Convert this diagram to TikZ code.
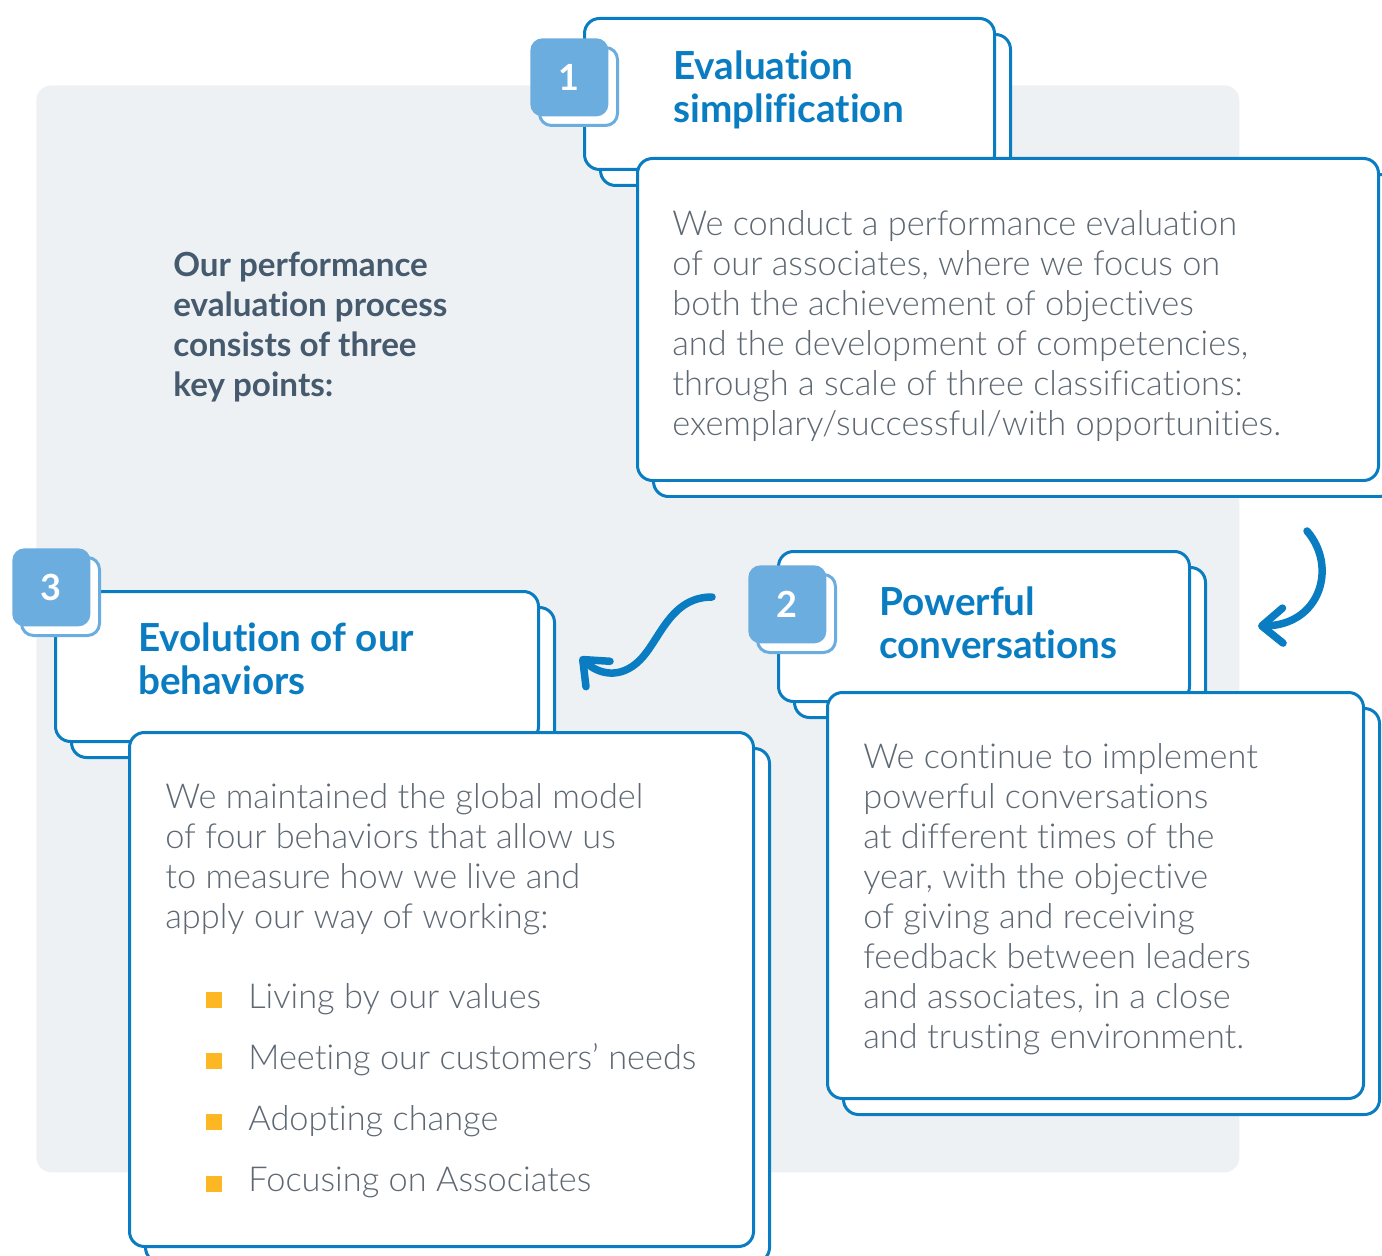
\documentclass[tikz,border=0pt]{standalone}
\usepackage{fontspec}
\setmainfont{Lato}[Ligatures=NoCommon]
\newfontfamily\lightfont{Lato Light}[Ligatures=NoCommon]
\usetikzlibrary{arrows.meta}

\definecolor{cardblue}{HTML}{0A7DC2}
\definecolor{badgeblue}{HTML}{6CADDF}
\definecolor{panelgray}{HTML}{EEF1F4}
\definecolor{introgray}{HTML}{465A6E}
\definecolor{bodygray}{HTML}{5E6873}
\definecolor{bulletyellow}{HTML}{FDB722}

\begin{document}
\begin{tikzpicture}[
  x=0.02cm, y=-0.02cm,
  sz/.style 2 args={minimum width=#1*0.02cm, minimum height=#2*0.02cm},
  card/.style={rectangle, draw=cardblue, line width=0.06cm, fill=white,
               rounded corners=0.3cm, anchor=north west, inner sep=0pt},
  badgeback/.style={rectangle, draw=badgeblue, line width=0.06cm, fill=white,
                    rounded corners=0.24cm, anchor=north west, sz={78}{78}, inner sep=0pt},
  badge/.style={rectangle, fill=badgeblue, rounded corners=0.24cm, anchor=north west,
                sz={78}{78}, inner sep=0pt, text=white,
                font=\bfseries\fontsize{20.5}{20.5}\selectfont},
  title/.style={anchor=north west, inner sep=0pt, align=left, text=cardblue,
                font=\bfseries\fontsize{22}{25}\selectfont},
  body/.style={anchor=north west, inner sep=0pt, align=left, text=bodygray,
               font=\lightfont\fontsize{19.55}{22.8}\selectfont},
  bullet/.style={rectangle, fill=bulletyellow, sz={16}{16}, inner sep=0pt, anchor=south west},
  flow/.style={draw=cardblue, line width=0.15cm, line cap=round,
               -{Straight Barb[length=0.42cm, width=0.7cm, round]}},
]
  \useasboundingbox (0,0) rectangle (1382,1256);

  % light panel behind the cards
  \node[fill=panelgray, rounded corners=0.3cm, anchor=north west, sz={1203}{1087}] (panel) at (36,85) {};

  % cards: a copy shifted down-right, then the card itself
  \foreach \n/\x/\y/\w/\h in {t1/583/17/410/151, b1/636/157/741/322,
                               t2/777/550/411/150, b2/826/691/536/406,
                               t3/54/590/483/150, b3/128/731/624/514} {
    \node[card, sz={\w}{\h}] (\n back) at (\x+16,\y+16) {};
    \node[card, sz={\w}{\h}] (\n) at (\x,\y) {};
  }

  % number badges
  \foreach \k/\x/\y in {1/530/38, 2/748/565, 3/12/548} {
    \node[badgeback] (num\k back) at (\x+8,\y+8) {};
    \node[badge] (num\k) at (\x,\y) {\k};
  }

  % intro
  \node[anchor=north west, inner sep=0pt, align=left, text=introgray,
        font=\bfseries\fontsize{18.9}{22.8}\selectfont] (intro) at (173,252)
    {Our performance\\evaluation process\\consists of three\\key points:};

  % titles
  \node[title] (t1text) at (673,50) {Evaluation\\simplification};
  \node[title] (t2text) at (879,586) {Powerful\\conversations};
  \node[title] (t3text) at (138,622) {Evolution of our\\behaviors};

  % texts
  \node[body] (b1text) at (672,210) {We conduct a performance evaluation\\
    of our associates, where we focus on\\both the achievement of objectives\\
    and the development of competencies,\\through a scale of three classifications:\\
    exemplary/successful/with opportunities.};
  \node[body] (b2text) at (863,743) {We continue to implement\\powerful conversations\\
    at different times of the\\year, with the objective\\of giving and receiving\\
    feedback between leaders\\and associates, in a close\\and trusting environment.};
  \node[body] (b3text) at (165,783) {We maintained the global model\\of four behaviors that allow us\\
    to measure how we live and\\apply our way of working:};

  % behaviors list
  \foreach \txt [count=\k] in {Living by our values, Meeting our customers’ needs,
                               Adopting change, Focusing on Associates} {
    \node[bullet] (dot\k) at (206,{1008+(\k-1)*61.3}) {};
    \node[body, anchor=base west] (item\k) at (248,{1008+(\k-1)*61.3}) {\txt};
  }

  % curved arrows between the steps
  \coordinate (a1s) at (1307,531);
  \coordinate (a1e) at (1258,626);
  \draw[flow] (a1s) .. controls (1338,567) and (1320,625) .. (a1e);

  \coordinate (a2s) at (712,597);
  \coordinate (a2m) at (640,660);
  \coordinate (a2e) at (580,657);
  \draw[flow] (a2s) .. controls (670,597) and (660,640) .. (a2m)
    .. controls (620,680) and (598,674) .. (a2e);
\end{tikzpicture}
\end{document}
